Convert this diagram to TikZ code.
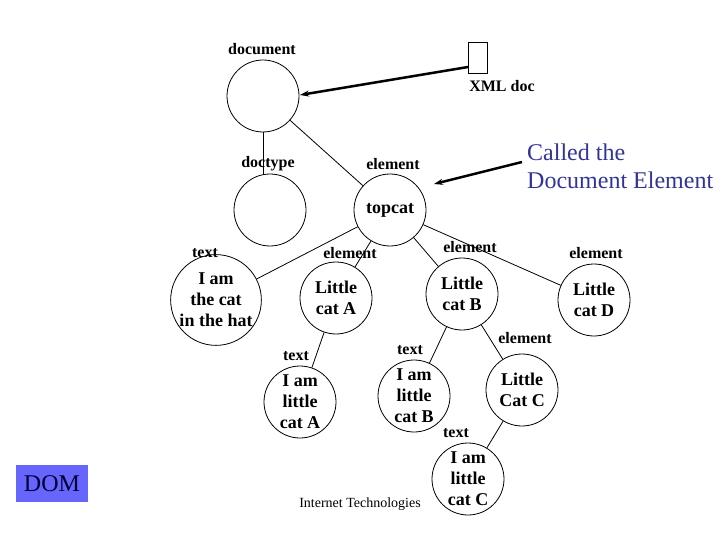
\documentclass[tikz,border=0pt]{standalone}
\usepackage{fontspec}
\setmainfont{Liberation Serif}
\usetikzlibrary{arrows.meta}
\definecolor{calltext}{HTML}{333399}
\definecolor{dombox}{HTML}{6666FF}
\definecolor{domtext}{HTML}{000033}
\tikzset{
  cnode/.style={draw, circle, minimum size=72pt, inner sep=0pt, line width=0.8pt, align=center,
    font=\fontsize{18}{21}\selectfont\bfseries},
  lbl/.style={font=\fontsize{16}{18}\selectfont\bfseries, inner sep=0pt},
  edge/.style={line width=0.8pt},
  bigarrow/.style={line width=2.5pt, -{Stealth[length=9pt,width=6pt]}}
}
\begin{document}
\begin{tikzpicture}[x=1pt,y=-1pt]
\useasboundingbox (0,0) rectangle (720,540);
% circles
\node[cnode] (doc) at (263,96) {};
\node[cnode] (doctype) at (270,210) {};
\node[cnode] (topcat) at (390,210) {\raisebox{-2pt}{topcat}};
\node[cnode] (hat) at (216,300) {I am\\the cat\\in the hat};
\node[cnode] (catA) at (336,298) {Little\\cat A};
\node[cnode] (catB) at (462,294) {Little\\cat B};
\node[cnode] (catD) at (594,300) {Little\\cat D};
\node[cnode] (tA) at (300,402) {I am\\little\\cat A};
\node[cnode] (tB) at (414,396) {I am\\little\\cat B};
\node[cnode] (catC) at (522,390) {Little\\Cat C};
\node[cnode] (tC) at (468,479) {I am\\little\\cat C};
% XML doc box
\node[draw, line width=0.8pt, minimum width=19pt, minimum height=31pt, inner sep=0pt] (xml) at (477.5,57.5) {};
% labels
\node[lbl] (ldoc) at (262,49) {document};
\node[lbl] (lxml) at (502,86) {XML doc};
\node[lbl] (ldoctype) at (268,164) {doctype};
\node[lbl] (ltop) at (393,164) {element};
\node[lbl] (lhat) at (205,253) {text};
\node[lbl] (lcatA) at (350,253) {element};
\node[lbl] (lcatB) at (470,247) {element};
\node[lbl] (lcatD) at (596,253) {element};
\node[lbl] (ltA) at (296,356) {text};
\node[lbl] (ltB) at (410,350) {text};
\node[lbl] (lcatC) at (525,338) {element};
\node[lbl] (ltC) at (456,433) {text};
\node[font=\fontsize{24}{28}\selectfont, text=calltext, align=left, inner sep=0pt, anchor=west] (called) at (527,166) {Called the\\Document Element};
\node[font=\fontsize{14}{16}\selectfont, inner sep=0pt] (inet) at (360,504) {Internet Technologies};
\node[fill=dombox, text=domtext, minimum width=72pt, minimum height=37pt, inner sep=0pt, font=\fontsize{24}{28}\selectfont] (dom) at (52,483.5) {DOM};
% edges
\draw[edge] (doc.south) -- (doc.south |- doctype.north);
\draw[edge] (doc) -- (topcat);
\draw[edge] (topcat) -- (hat);
\draw[edge] (topcat) -- (catA);
\draw[edge] (topcat) -- (catB);
\draw[edge] (topcat) -- (catD);
\draw[edge] (catA) -- (tA);
\draw[edge] (catB) -- (tB);
\draw[edge] (catB) -- (catC);
\draw[edge] (catC) -- (tC);
% arrows
\coordinate (xmlpt) at (468,67);
\coordinate (docpt) at (300,95);
\draw[bigarrow] (xmlpt) -- (docpt);
\coordinate (callpt) at (522,162);
\coordinate (toppt) at (434,184);
\draw[bigarrow] (callpt) -- (toppt);
\end{tikzpicture}
\end{document}
